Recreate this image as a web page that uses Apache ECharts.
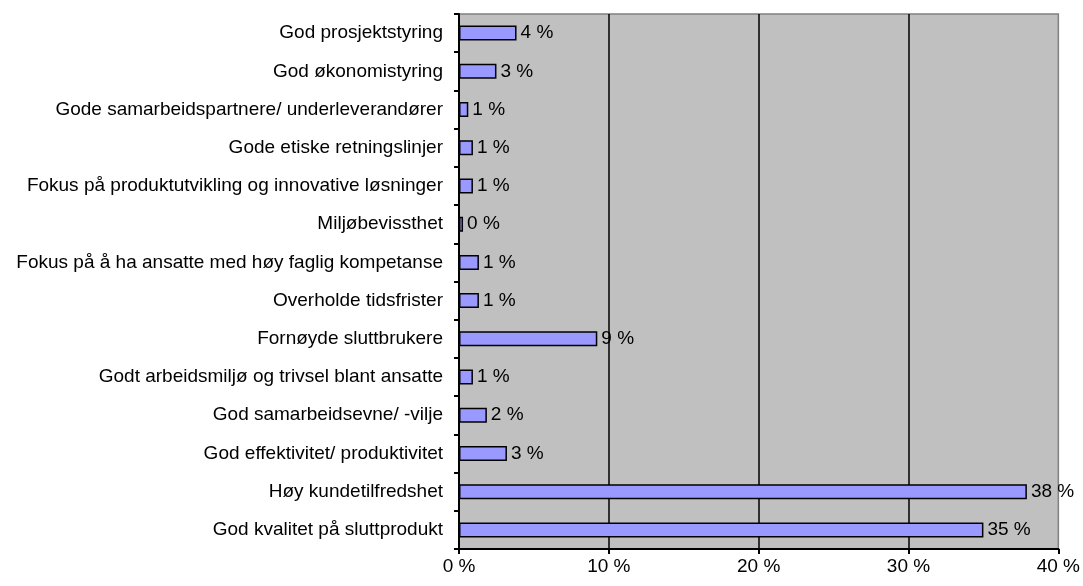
<!DOCTYPE html>
<html>
<head>
<meta charset="utf-8">
<script src="https://cdn.jsdelivr.net/npm/echarts@6/dist/echarts.min.js"></script>
<style>
  html, body { margin: 0; padding: 0; background: #fff; }
  #chart { width: 1083px; height: 586px; }
</style>
</head>
<body>
<div id="chart"></div>
<script>
  // kategorier fra topp til bunn
  const categories = [
    'God prosjektstyring',
    'God økonomistyring',
    'Gode samarbeidspartnere/ underleverandører',
    'Gode etiske retningslinjer',
    'Fokus på produktutvikling og innovative løsninger',
    'Miljøbevissthet',
    'Fokus på å ha ansatte med høy faglig kompetanse',
    'Overholde tidsfrister',
    'Fornøyde sluttbrukere',
    'Godt arbeidsmiljø og trivsel blant ansatte',
    'God samarbeidsevne/ -vilje',
    'God effektivitet/ produktivitet',
    'Høy kundetilfredshet',
    'God kvalitet på sluttprodukt'
  ];
  const values = [3.84, 2.5, 0.62, 0.93, 0.93, 0.27, 1.33, 1.33, 9.23, 0.93, 1.86, 3.2, 37.9, 35.0];
  const valueLabels = ['4 %', '3 %', '1 %', '1 %', '1 %', '0 %', '1 %', '1 %', '9 %', '1 %', '2 %', '3 %', '38 %', '35 %'];
  const tickValues = [0, 10, 20, 30, 40];

  const font = 'Liberation Sans, Arial, sans-serif';
  const myChart = echarts.init(document.getElementById('chart'));

  myChart.setOption({
    animation: false,
    grid: {
      left: 459,
      right: 23,
      top: 14,
      bottom: 37,
      show: true,
      backgroundColor: '#C0C0C0',
      borderColor: '#808080',
      borderWidth: 1.5
    },
    xAxis: {
      type: 'value',
      min: tickValues[0],
      max: tickValues[tickValues.length - 1],
      interval: 10,
      axisLine: { show: true, lineStyle: { color: '#000', width: 2 } },
      axisTick: { show: true, length: 5, lineStyle: { color: '#000', width: 2 } },
      axisLabel: {
        margin: 8,
        color: '#000',
        fontFamily: font,
        fontSize: 19,
        formatter: (v) => v + ' %'
      },
      splitLine: {
        show: true,
        lineStyle: { color: ['transparent', '#000', '#000', '#000', 'transparent'], width: 1.5 }
      }
    },
    yAxis: {
      type: 'category',
      inverse: true,
      data: categories,
      axisLine: { show: true, lineStyle: { color: '#000', width: 2 } },
      axisTick: { show: true, length: 5, lineStyle: { color: '#000', width: 2 } },
      axisLabel: {
        margin: 16,
        color: '#000',
        fontFamily: font,
        fontSize: 19
      },
      splitLine: { show: false }
    },
    series: [{
      type: 'bar',
      data: values,
      barWidth: 15,
      itemStyle: {
        color: '#9999FF',
        borderColor: '#000',
        borderWidth: 1.5
      },
      label: {
        show: true,
        position: 'right',
        distance: 4,
        color: '#000',
        fontFamily: font,
        fontSize: 19,
        formatter: (p) => valueLabels[p.dataIndex]
      }
    }]
  });

  window.addEventListener('resize', () => {
    myChart && myChart.resize();
  });
</script>
</body>
</html>
